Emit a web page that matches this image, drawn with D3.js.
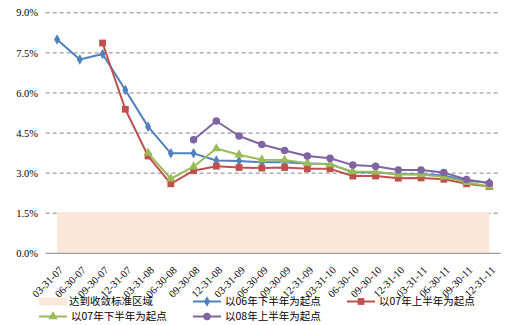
<!DOCTYPE html>
<html><head><meta charset="utf-8">
<script src="https://cdn.jsdelivr.net/npm/d3@7/dist/d3.min.js"></script>
<style>body{margin:0;background:#fff}svg{display:block}</style>
</head><body><svg id="c" width="513" height="325"></svg>
<script>
const categories = ["03-31-07","06-30-07","09-30-07","12-31-07","03-31-08","06-30-08","09-30-08","12-31-08","03-31-09","06-30-09","09-30-09","12-31-09","03-31-10","06-30-10","09-30-10","12-31-10","03-31-11","06-30-11","09-30-11","12-31-11"];
const yTicks = [0, 1.5, 3.0, 4.5, 6.0, 7.5, 9.0];
const bandName = "达到收敛标准区域";
const bandValues = [1.55,1.55,1.55,1.55,1.55,1.55,1.55,1.55,1.55,1.55,1.55,1.55,1.55,1.55,1.55,1.55,1.55,1.55,1.55,1.55];
const s06H2 = [8.0,7.25,7.46,6.11,4.74,3.74,3.74,3.47,3.45,3.41,3.41,3.36,3.34,3.03,3.02,2.97,2.96,2.91,2.72,2.64];
const s07H1 = [null,null,7.87,5.39,3.64,2.60,3.09,3.26,3.21,3.19,3.21,3.16,3.16,2.89,2.89,2.81,2.82,2.77,2.60,2.50];
const s07H2 = [null,null,null,null,3.75,2.79,3.24,3.92,3.69,3.50,3.49,3.37,3.32,3.06,3.05,2.95,2.95,2.86,2.66,2.50];
const s08H1 = [null,null,null,null,null,null,4.25,4.95,4.39,4.07,3.85,3.64,3.56,3.30,3.26,3.12,3.12,3.02,2.76,2.62];
const seriesNames = ["以06年下半年为起点","以07年上半年为起点","以07年下半年为起点","以08年上半年为起点"];

const series = [
  {name: seriesNames[0], values: s06H2, color: "#4F81BD", sym: d3.symbolDiamond, size: 32},
  {name: seriesNames[1], values: s07H1, color: "#C0504D", sym: d3.symbolSquare, size: 46},
  {name: seriesNames[2], values: s07H2, color: "#9BBB59", sym: d3.symbolTriangle, size: 38},
  {name: seriesNames[3], values: s08H1, color: "#8064A2", sym: d3.symbolCircle, size: 44}
];

const svg = d3.select("#c");
const L = 45.7, R = 500.7, T = 12.8, B = 253.3;
const x = d3.scaleBand().domain(categories).range([L, R]).padding(0);
const cx = c => x(c) + x.bandwidth() / 2;
const y = d3.scaleLinear().domain([0, 9]).range([B, T]);
const serif = "'Liberation Serif','Times New Roman',serif";
const cjk = "'Noto Sans CJK SC','Noto Sans',sans-serif";

// gridlines
svg.append("g").selectAll("line").data(yTicks.filter(t => t > 0)).join("line")
  .attr("x1", L).attr("x2", R).attr("y1", d => y(d)).attr("y2", d => y(d))
  .attr("stroke", "#868686").attr("stroke-width", 1).attr("stroke-dasharray", "4,3");

// band area
const area = d3.area().x((d, i) => cx(categories[i])).y0(y(0)).y1(d => y(d));
svg.append("path").datum(bandValues).attr("d", area).attr("fill", "#FCE8DA");

// y labels
svg.append("g").selectAll("text").data(yTicks).join("text")
  .attr("x", 38).attr("y", d => y(d)).attr("dy", "0.35em").attr("text-anchor", "end")
  .attr("font-family", serif).attr("font-size", 10.5).attr("fill", "#000")
  .text(d => d3.format(".1%")(d / 100));

// x axis line
svg.append("line").attr("x1", L).attr("x2", R).attr("y1", B).attr("y2", B)
  .attr("stroke", "#868686").attr("stroke-width", 1);

// x labels
svg.append("g").selectAll("text").data(categories).join("text")
  .attr("transform", d => `translate(${cx(d) + 4},${B + 15}) rotate(-45)`)
  .attr("text-anchor", "end").attr("dy", "0.35em")
  .attr("font-family", serif).attr("font-size", 10.5).attr("fill", "#000")
  .text(d => d);

// series
const line = d3.line().defined(d => d != null).x((d, i) => cx(categories[i])).y(d => y(d));
series.forEach(s => {
  const g = svg.append("g");
  g.append("path").datum(s.values).attr("d", line).attr("fill", "none")
    .attr("stroke", s.color).attr("stroke-width", 2).attr("stroke-linejoin", "round");
  g.selectAll("path.m").data(s.values.map((v, i) => ({v, i})).filter(d => d.v != null)).join("path")
    .attr("class", "m")
    .attr("transform", d => `translate(${cx(categories[d.i])},${y(d.v)})`)
    .attr("d", d3.symbol().type(s.sym).size(s.size)).attr("fill", s.color);
});

// legend
const leg = svg.append("g").attr("font-family", cjk).attr("font-size", 10.5);
function legText(xp, yp, t) {
  leg.append("text").attr("x", xp).attr("y", yp).attr("dy", "0.35em").attr("fill", "#000").text(t);
}
leg.append("rect").attr("x", 39).attr("y", 297.5).attr("width", 28).attr("height", 8).attr("fill", "#FCE8DA");
legText(69, 301.5, bandName);
const legPos = [[193, 301.5], [347, 301.5], [39, 316.5], [193, 316.5]];
series.forEach((s, k) => {
  const [lx, ly] = legPos[k];
  leg.append("line").attr("x1", lx).attr("x2", lx + 28).attr("y1", ly).attr("y2", ly)
    .attr("stroke", s.color).attr("stroke-width", 2);
  leg.append("path").attr("transform", `translate(${lx + 14},${ly})`)
    .attr("d", d3.symbol().type(s.sym).size(s.size)).attr("fill", s.color);
  legText(lx + 32, ly, s.name);
});
</script></body></html>
